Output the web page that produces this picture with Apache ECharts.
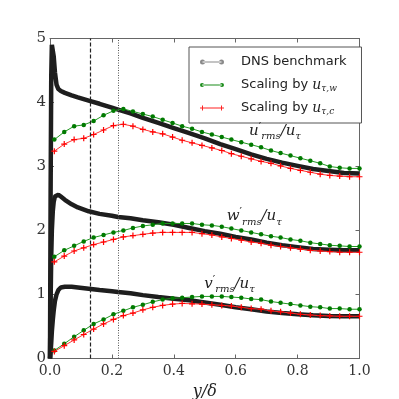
<!DOCTYPE html>
<html lang="en">
<head>
    <meta charset="UTF-8">
    <title>rms profiles</title>
    <style>
    html, body { margin: 0; padding: 0; background: #fff; }
    #main { width: 399px; height: 399px; }
    </style>
</head>
<body>
<div id="main"></div>
<script src="https://cdn.jsdelivr.net/npm/echarts@6/dist/echarts.min.js"></script>
<script>
// DNS benchmark profiles
var dnsX = [0, 0.002, 0.004, 0.006, 0.009, 0.012, 0.016, 0.021, 0.027, 0.035, 0.048, 0.07, 0.09, 0.125, 0.16, 0.2, 0.22,
            0.26, 0.3, 0.35, 0.4, 0.45, 0.5, 0.55, 0.6, 0.65, 0.7, 0.75, 0.8, 0.85, 0.9, 0.95, 1.0];
var dnsU = [0, 2.6, 4.4, 4.9, 4.88, 4.72, 4.47, 4.28, 4.21, 4.18, 4.15, 4.11, 4.08, 4.03, 3.98, 3.92, 3.89,
            3.83, 3.76, 3.68, 3.60, 3.52, 3.44, 3.35, 3.27, 3.19, 3.12, 3.06, 3.01, 2.96, 2.93, 2.90, 2.89];
var dnsW = [0, 0.9, 1.6, 2.0, 2.3, 2.45, 2.53, 2.56, 2.56, 2.53, 2.48, 2.41, 2.36, 2.30, 2.26, 2.23, 2.21,
            2.19, 2.16, 2.13, 2.09, 2.04, 1.99, 1.95, 1.90, 1.86, 1.81, 1.77, 1.74, 1.71, 1.70, 1.69, 1.69];
var dnsV = [0, 0.1, 0.25, 0.42, 0.6, 0.75, 0.9, 1.0, 1.07, 1.11, 1.12, 1.12, 1.11, 1.09, 1.07, 1.05, 1.04,
            1.02, 0.99, 0.96, 0.935, 0.91, 0.875, 0.84, 0.80, 0.77, 0.735, 0.71, 0.69, 0.675, 0.665, 0.66, 0.66];

// model stations
var xs = [0.014, 0.046, 0.078, 0.109, 0.141, 0.173, 0.205, 0.237, 0.268, 0.300, 0.332, 0.364, 0.396, 0.427, 0.459, 0.491,
          0.523, 0.555, 0.586, 0.618, 0.650, 0.682, 0.714, 0.745, 0.777, 0.809, 0.841, 0.873, 0.904, 0.936, 0.968, 1.000];
// scaling by u_tau,w (green)
var uW = [3.42, 3.54, 3.63, 3.65, 3.71, 3.80, 3.87, 3.90, 3.86, 3.82, 3.78, 3.73, 3.68, 3.63, 3.59, 3.54,
          3.50, 3.46, 3.42, 3.38, 3.34, 3.30, 3.25, 3.21, 3.17, 3.13, 3.09, 3.05, 3.00, 2.98, 2.97, 2.97];
var wW = [1.59, 1.69, 1.76, 1.83, 1.89, 1.93, 1.97, 2.00, 2.04, 2.07, 2.09, 2.11, 2.11, 2.11, 2.11, 2.09,
          2.08, 2.06, 2.03, 2.00, 1.97, 1.94, 1.91, 1.89, 1.86, 1.84, 1.81, 1.79, 1.77, 1.76, 1.75, 1.75];
var vW = [0.125, 0.23, 0.34, 0.44, 0.54, 0.61, 0.69, 0.745, 0.80, 0.84, 0.885, 0.92, 0.94, 0.95, 0.96, 0.97,
          0.97, 0.97, 0.96, 0.95, 0.93, 0.92, 0.89, 0.87, 0.85, 0.83, 0.81, 0.80, 0.78, 0.78, 0.77, 0.77];
// scaling by u_tau,c (red)
var uC = [3.24, 3.35, 3.42, 3.44, 3.50, 3.57, 3.64, 3.66, 3.63, 3.58, 3.54, 3.51, 3.46, 3.41, 3.37, 3.33,
          3.29, 3.25, 3.20, 3.16, 3.12, 3.08, 3.05, 3.01, 2.97, 2.94, 2.91, 2.88, 2.86, 2.85, 2.84, 2.84];
var wC = [1.51, 1.60, 1.68, 1.73, 1.78, 1.82, 1.86, 1.90, 1.92, 1.94, 1.96, 1.97, 1.97, 1.97, 1.97, 1.95,
          1.93, 1.90, 1.875, 1.85, 1.82, 1.80, 1.77, 1.75, 1.73, 1.71, 1.69, 1.68, 1.67, 1.66, 1.66, 1.66];
var vC = [0.11, 0.20, 0.29, 0.375, 0.46, 0.54, 0.61, 0.67, 0.71, 0.76, 0.80, 0.83, 0.85, 0.86, 0.855, 0.85,
          0.84, 0.83, 0.82, 0.80, 0.78, 0.77, 0.745, 0.73, 0.71, 0.69, 0.68, 0.67, 0.665, 0.66, 0.66, 0.66];

var xTicks = [0, 0.2, 0.4, 0.6, 0.8, 1.0];
var yTicks = [0, 1, 2, 3, 4, 5];

function pairs(x, y) {
    return x.map(function (v, i) { return [v, y[i]]; });
}

var serif = 'DejaVu Serif';
var mathRich = {
    i: { fontFamily: serif, fontStyle: 'italic', fontSize: 15, color: '#222' },
    p: { fontFamily: serif, fontSize: 11, color: '#222', padding: [0, 0, 8, 0] },
    s: { fontFamily: serif, fontStyle: 'italic', fontSize: 10, color: '#222', padding: [11, 0, 0, 0] }
};
var plus = 'path://M-1,-5h2v4h4v2h-4v4h-2v-4h-4v-2h4z';

function dns(y) {
    return {
        name: 'DNS benchmark', type: 'line', data: pairs(dnsX, y),
        showSymbol: false, symbol: 'emptyCircle',
        lineStyle: { color: '#1e1e1e', width: 4.5 },
        itemStyle: { color: '#1e1e1e' },
        z: 2
    };
}
function green(y) {
    return {
        name: 'Scaling by w', type: 'line', data: pairs(xs, y),
        symbol: 'circle', symbolSize: 4.5,
        lineStyle: { color: '#229922', width: 1 },
        itemStyle: { color: '#007a00' },
        z: 3
    };
}
function red(y) {
    return {
        name: 'Scaling by c', type: 'line', data: pairs(xs, y),
        symbol: plus, symbolSize: 6,
        lineStyle: { color: '#ff3333', width: 1 },
        itemStyle: { color: '#ff0000' },
        z: 4
    };
}
function tag(series, coord, text) {
    series.markPoint = {
        silent: true, symbol: 'rect', symbolSize: 0,
        label: { show: true, position: 'inside', formatter: text, rich: mathRich },
        data: [{ coord: coord }]
    };
    return series;
}

var sDnsU = dns(dnsU);
sDnsU.markLine = {
    silent: true, symbol: 'none', label: { show: false },
    data: [
        { xAxis: 0.125, lineStyle: { type: [4, 2], color: '#222', width: 1.2 } },
        { xAxis: 0.22, lineStyle: { type: [1, 1.5], color: '#555', width: 1 } }
    ]
};

var chart = echarts.init(document.getElementById('main'));
var axisCommon = {
    axisLine: { show: true, onZero: false, lineStyle: { color: '#666', width: 1 } },
    axisTick: { show: true, inside: true, length: 4, lineStyle: { color: '#666' } },
    splitLine: { show: false }
};
chart.setOption({
    animation: false,
    backgroundColor: '#fff',
    grid: { left: 50, top: 38.5, right: 39.5, bottom: 40.5, containLabel: false, outerBoundsMode: 'none' },
    legend: {
        orient: 'vertical', left: 189, top: 47,
        padding: [7, 15, 7, 11], itemGap: 7,
        itemWidth: 24, itemHeight: 5,
        backgroundColor: '#fff', borderColor: '#555', borderWidth: 1, borderRadius: 0,
        textStyle: { fontFamily: 'DejaVu Sans', fontSize: 13, color: '#222', padding: [0, 0, 0, 12], lineHeight: 16,
            rich: {
                m: { fontFamily: serif, fontStyle: 'italic', fontSize: 14, color: '#222' },
                s: { fontFamily: serif, fontStyle: 'italic', fontSize: 9, color: '#222', padding: [7, 0, 0, 0] }
            } },
        formatter: function (name) {
            if (name === 'Scaling by w') return 'Scaling by {m|u}{s|τ,w}';
            if (name === 'Scaling by c') return 'Scaling by {m|u}{s|τ,c}';
            return name;
        },
        data: [
            { name: 'DNS benchmark', icon: 'path://M2.5,2h19v1h-19z M0,2.5a2.5,2.5 0 1,0 5,0a2.5,2.5 0 1,0 -5,0z M19,2.5a2.5,2.5 0 1,0 5,0a2.5,2.5 0 1,0 -5,0z',
              itemStyle: { color: '#8a8a8a' } },
            { name: 'Scaling by w', icon: 'path://M2.5,2h19v1h-19z M0.5,2.5a2,2 0 1,0 4,0a2,2 0 1,0 -4,0z M19.5,2.5a2,2 0 1,0 4,0a2,2 0 1,0 -4,0z',
              itemStyle: { color: '#1a8c1a' } },
            { name: 'Scaling by c', icon: 'path://M2,2h20v1h-20z M2,0h1v5h-1z M0,2h5v1h-5z M21,0h1v5h-1z M19,2h5v1h-5z',
              itemStyle: { color: '#ff2222' } }
        ]
    },
    xAxis: [
        Object.assign({
            type: 'value', min: 0, max: 1, interval: 0.2, position: 'bottom',
            name: '{i|y}{i|/δ}', nameLocation: 'middle', nameGap: 22,
            nameTextStyle: { rich: { i: { fontFamily: serif, fontStyle: 'italic', fontSize: 16, color: '#222' } } },
            axisLabel: { margin: 6, fontFamily: serif, fontSize: 14, color: '#333',
                formatter: function (v) { return v.toFixed(1); },
                customValues: xTicks }
        }, axisCommon),
        Object.assign({
            type: 'value', min: 0, max: 1, interval: 0.2, position: 'top',
            axisLabel: { show: false }
        }, axisCommon)
    ],
    yAxis: [
        Object.assign({
            type: 'value', min: 0, max: 5, interval: 1, position: 'left',
            axisLabel: { margin: 4, fontFamily: serif, fontSize: 15, color: '#333', customValues: yTicks }
        }, axisCommon),
        Object.assign({
            type: 'value', min: 0, max: 5, interval: 1, position: 'right',
            axisLabel: { show: false }
        }, axisCommon)
    ],
    series: [
        sDnsU, dns(dnsW), dns(dnsV),
        tag(green(uW), [0.727, 3.55], '{i|u}{p|′}{s|rms}{i|/u}{s|τ}'),
        tag(green(wW), [0.66, 2.22], '{i|w}{p|′}{s|rms}{i|/u}{s|τ}'),
        tag(green(vW), [0.58, 1.16], '{i|v}{p|′}{s|rms}{i|/u}{s|τ}'),
        red(uC), red(wC), red(vC)
    ]
});
</script>
</body>
</html>
